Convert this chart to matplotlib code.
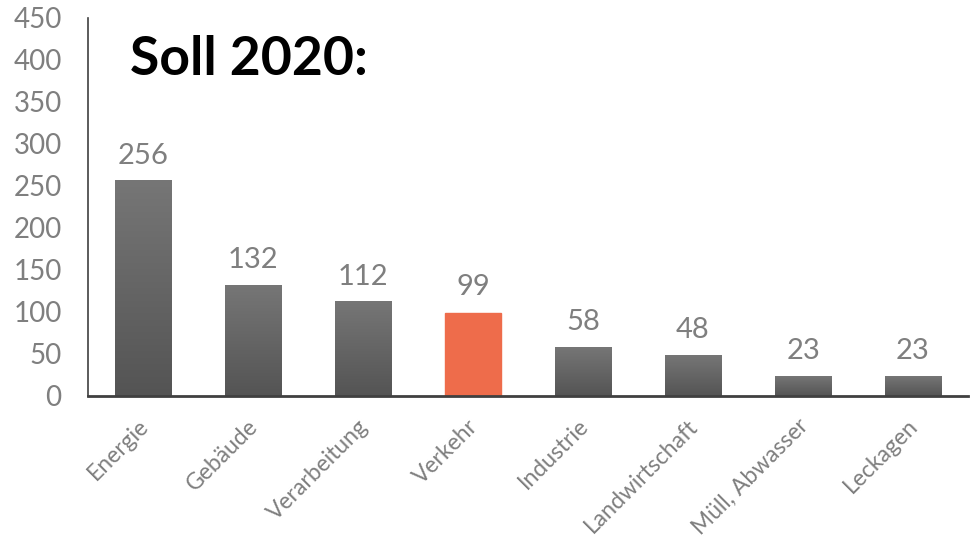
import numpy as np
import matplotlib.pyplot as plt
from matplotlib.colors import LinearSegmentedColormap
from matplotlib.transforms import ScaledTranslation

categories = ['Energie', 'Gebäude', 'Verarbeitung', 'Verkehr', 'Industrie',
              'Landwirtschaft', 'Müll, Abwasser', 'Leckagen']
values = [256, 132, 112, 99, 58, 48, 23, 23]
highlight = 'Verkehr'
title = 'Soll 2020:'

plt.rcParams['font.family'] = ['Lato', 'DejaVu Sans']

fig = plt.figure(figsize=(9.76, 5.42), dpi=100)
ax = fig.add_axes([0.0902, 0.2694, 0.9016, 0.6974])

x = np.arange(len(categories))
bars = ax.bar(x, values, width=0.51, color='#5f5f5f', zorder=2)

# vertical gradient on the gray bars
gray_cmap = LinearSegmentedColormap.from_list('bargray', ['#545454', '#767676'])
grad = np.linspace(0, 1, 256).reshape(-1, 1)
for bar, cat in zip(bars, categories):
    if cat == highlight:
        bar.set_color('#EE6C4B')
        continue
    bar.set_facecolor('none')
    bar.set_edgecolor('none')
    x0, w, h = bar.get_x(), bar.get_width(), bar.get_height()
    ax.imshow(grad, extent=[x0, x0 + w, 0, h], origin='lower', cmap=gray_cmap,
              aspect='auto', zorder=2, interpolation='bilinear')

for xi, v in zip(x, values):
    ax.annotate(str(v), (xi, v), xytext=(0, 12.5), textcoords='offset points',
                ha='center', va='baseline', fontsize=21, color='#7f7f7f')

ax.set_xlim(-0.5, len(categories) - 0.5)
ax.set_ylim(0, 450)
ax.set_yticks(range(0, 451, 50))
ax.set_xticks(x)
ax.set_xticklabels(categories, rotation=45, ha='right', va='top',
                   rotation_mode='anchor', fontsize=16.5, color='#7f7f7f')
ax.tick_params(axis='y', length=0, pad=19, labelsize=20, labelcolor='#7f7f7f')
ax.tick_params(axis='x', length=0, pad=14)
shift = ScaledTranslation(-4 / 72, 0, fig.dpi_scale_trans)
for lab in ax.get_xticklabels():
    lab.set_transform(lab.get_transform() + shift)

for s in ['top', 'right']:
    ax.spines[s].set_visible(False)
ax.spines['left'].set_color('#404040')
ax.spines['left'].set_linewidth(1.2)
ax.spines['bottom'].set_color('#404040')
ax.spines['bottom'].set_linewidth(2)

fig.text(130 / 976, 1 - 75 / 542, title, fontsize=38.5, fontweight='bold',
         color='black', ha='left', va='baseline')

fig.savefig('out.png', dpi=100)
